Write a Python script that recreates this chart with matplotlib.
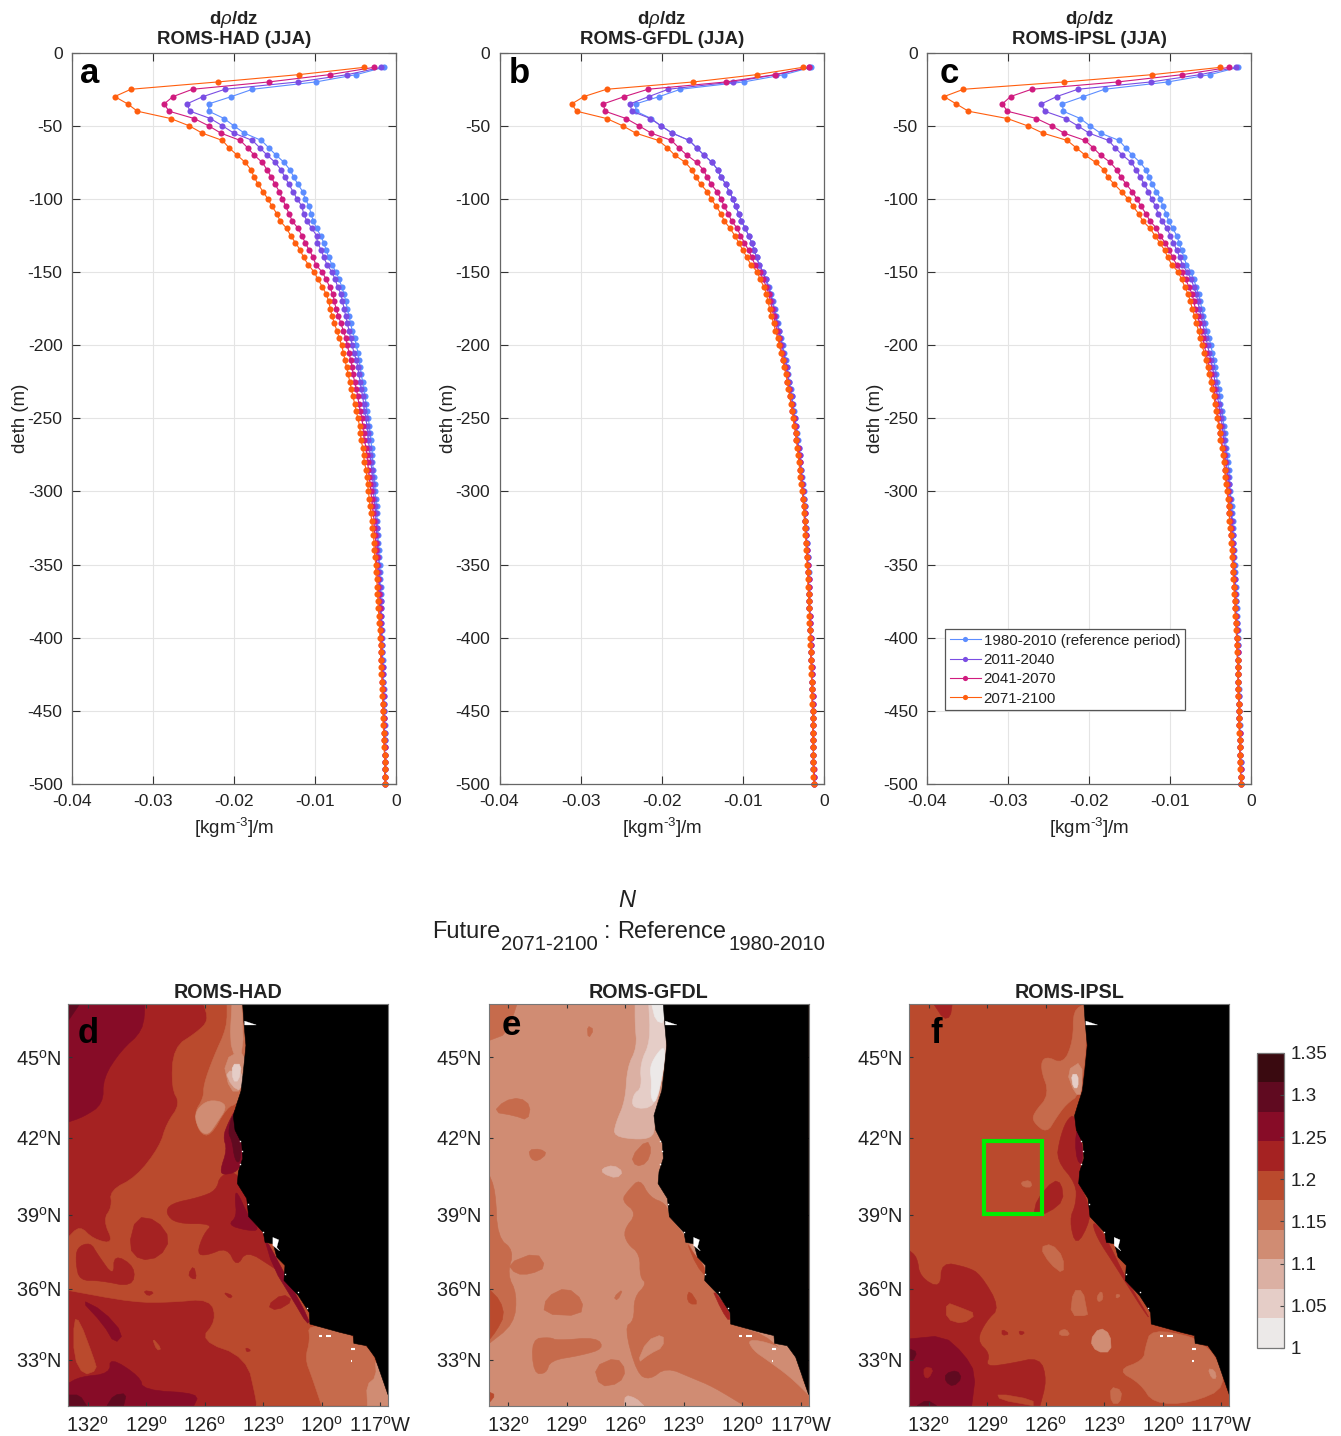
"""Density gradient profiles (a-c) and stratification ratio maps (d-f)."""

import matplotlib

matplotlib.use("Agg")
import matplotlib.pyplot as plt
import numpy as np
from matplotlib.cm import ScalarMappable
from matplotlib.colors import BoundaryNorm, ListedColormap
from matplotlib.patches import Polygon

plt.rcParams["font.family"] = ["Liberation Sans", "DejaVu Sans"]
plt.rcParams["mathtext.fontset"] = "custom"
plt.rcParams["mathtext.rm"] = "Liberation Sans"
plt.rcParams["mathtext.it"] = "Liberation Sans:italic"
plt.rcParams["mathtext.bf"] = "Liberation Sans:bold"
plt.rcParams["axes.unicode_minus"] = False

WIDTH, HEIGHT = 1341, 1436

# depth levels of the profiles, every 5 m
depth_m = np.arange(-10, -505, -5)
periods = ["1980-2010 (reference period)", "2011-2040", "2041-2070", "2071-2100"]
period_colors = ["#5C8DFF", "#7A4DE3", "#D01B7F", "#FF5E0E"]

# -d(rho)/dz in units of 1e-4 kg m-3 per m, ten values per row
had_ref = [15, 49, 99, 177, 203, 231, 231, 212, 200, 187,
           166, 157, 148, 138, 131, 126, 121, 115, 112, 107,
           105, 102, 98, 93, 89, 86, 83, 79, 74, 70,
           67, 64, 62, 60, 58, 56, 54, 51, 49, 47,
           46, 44, 43, 41, 40, 38, 37, 36, 34, 33,
           32, 31, 30, 29, 29, 28, 27, 26, 26, 25,
           24, 24, 23, 23, 22, 22, 21, 21, 20, 20,
           20, 19, 19, 19, 18, 18, 18, 17, 17, 17,
           17, 16, 16, 16, 16, 15, 15, 15, 15, 15,
           14, 14, 14, 14, 14, 13, 13, 13, 13]
had_2011 = [18, 60, 121, 211, 238, 258, 254, 229, 214, 200,
            177, 168, 159, 149, 142, 137, 132, 127, 122, 116,
            114, 110, 104, 98, 97, 92, 89, 85, 79, 75,
            72, 68, 66, 64, 62, 60, 58, 56, 54, 52,
            49, 47, 46, 44, 43, 41, 40, 39, 37, 36,
            35, 34, 33, 32, 31, 30, 29, 28, 28, 27,
            26, 25, 25, 24, 24, 23, 23, 22, 22, 21,
            21, 20, 20, 19, 19, 19, 18, 18, 18, 17,
            17, 17, 16, 16, 16, 16, 15, 15, 15, 15,
            15, 14, 14, 14, 14, 14, 13, 13, 13]
had_2041 = [27, 82, 157, 251, 275, 286, 280, 249, 231, 216,
            192, 183, 175, 165, 159, 154, 149, 144, 140, 136,
            132, 128, 121, 116, 112, 107, 102, 99, 91, 86,
            82, 78, 76, 74, 71, 68, 65, 62, 60, 58,
            56, 54, 53, 51, 49, 47, 46, 44, 42, 41,
            40, 39, 37, 36, 35, 34, 33, 32, 31, 30,
            29, 28, 27, 27, 26, 25, 25, 24, 24, 23,
            22, 22, 21, 21, 20, 20, 20, 19, 19, 18,
            18, 18, 17, 17, 17, 16, 16, 16, 16, 15,
            15, 15, 15, 14, 14, 14, 14, 14, 13]
had_2071 = [39, 120, 220, 327, 347, 331, 319, 278, 255, 239,
            214, 206, 196, 186, 179, 175, 170, 164, 158, 153,
            147, 143, 135, 130, 124, 118, 114, 108, 101, 96,
            91, 86, 83, 81, 79, 76, 73, 70, 67, 65,
            63, 61, 59, 57, 55, 53, 51, 49, 47, 45,
            44, 43, 41, 40, 39, 37, 36, 35, 34, 33,
            32, 31, 30, 29, 28, 27, 27, 26, 25, 25,
            24, 23, 23, 22, 22, 21, 21, 20, 20, 19,
            19, 19, 18, 18, 17, 17, 17, 16, 16, 16,
            16, 15, 15, 15, 14, 14, 14, 14, 13]

gfdl_ref = [16, 49, 99, 177, 203, 232, 232, 213, 201, 187,
            166, 157, 148, 138, 131, 127, 121, 117, 112, 109,
            105, 102, 97, 93, 89, 86, 83, 80, 75, 71,
            68, 65, 63, 61, 59, 57, 55, 53, 51, 49,
            47, 46, 44, 43, 41, 40, 38, 37, 36, 34,
            33, 32, 31, 30, 29, 28, 27, 26, 25, 25,
            24, 23, 23, 22, 22, 21, 21, 20, 20, 19,
            19, 19, 18, 18, 18, 17, 17, 17, 16, 16,
            16, 16, 15, 15, 15, 15, 14, 14, 14, 14,
            14, 14, 13, 13, 13, 13, 13, 12, 12]
gfdl_2011 = [18, 59, 112, 192, 216, 239, 237, 214, 201, 187,
             166, 157, 148, 138, 131, 127, 121, 117, 112, 109,
             105, 102, 97, 93, 89, 86, 83, 80, 75, 72,
             69, 66, 64, 62, 60, 58, 56, 54, 52, 50,
             48, 46, 45, 43, 42, 40, 39, 38, 36, 35,
             34, 33, 31, 30, 29, 28, 28, 27, 26, 25,
             24, 24, 23, 22, 22, 21, 21, 20, 20, 20,
             19, 19, 18, 18, 18, 17, 17, 17, 16, 16,
             16, 16, 15, 15, 15, 15, 14, 14, 14, 14,
             14, 13, 13, 13, 13, 13, 13, 12, 12]
gfdl_2041 = [18, 60, 121, 217, 246, 272, 270, 244, 228, 213,
             188, 179, 169, 157, 149, 144, 139, 132, 127, 123,
             118, 114, 107, 103, 98, 93, 89, 85, 79, 75,
             71, 68, 66, 64, 62, 60, 58, 56, 54, 52,
             50, 48, 46, 45, 43, 42, 40, 39, 37, 36,
             35, 34, 32, 31, 30, 29, 28, 27, 26, 26,
             25, 24, 24, 23, 22, 22, 21, 21, 20, 20,
             19, 19, 19, 18, 18, 17, 17, 17, 16, 16,
             16, 16, 15, 15, 15, 15, 14, 14, 14, 14,
             14, 13, 13, 13, 13, 13, 12, 12, 12]
gfdl_2071 = [26, 83, 161, 268, 296, 311, 305, 268, 248, 232,
             204, 193, 184, 171, 163, 158, 152, 144, 139, 133,
             127, 123, 116, 110, 105, 100, 95, 90, 82, 79,
             74, 71, 69, 67, 65, 62, 60, 57, 55, 53,
             51, 49, 47, 45, 44, 42, 41, 39, 38, 37,
             35, 34, 33, 32, 31, 30, 29, 28, 27, 26,
             25, 25, 24, 23, 23, 22, 22, 21, 21, 20,
             20, 20, 19, 19, 18, 18, 18, 17, 17, 17,
             16, 16, 16, 16, 15, 15, 15, 15, 14, 14,
             14, 14, 14, 13, 13, 13, 13, 13, 12]

ipsl_ref = [16, 51, 103, 181, 207, 233, 232, 211, 199, 186,
            163, 155, 147, 137, 130, 126, 122, 117, 112, 109,
            105, 102, 97, 92, 89, 86, 83, 80, 74, 71,
            68, 65, 63, 61, 59, 57, 55, 52, 50, 48,
            46, 45, 43, 42, 40, 39, 38, 36, 35, 34,
            33, 32, 31, 30, 29, 28, 27, 27, 26, 25,
            24, 24, 23, 23, 22, 22, 21, 21, 20, 20,
            20, 19, 19, 19, 18, 18, 18, 17, 17, 17,
            17, 16, 16, 16, 16, 15, 15, 15, 15, 15,
            14, 14, 14, 14, 14, 13, 13, 13, 13]
ipsl_2011 = [19, 63, 124, 214, 240, 259, 255, 229, 214, 200,
             176, 168, 159, 148, 142, 137, 132, 127, 123, 118,
             115, 110, 104, 100, 96, 92, 88, 85, 79, 74,
             71, 68, 66, 64, 62, 60, 58, 56, 54, 52,
             50, 48, 46, 45, 43, 42, 40, 39, 37, 36,
             35, 34, 33, 32, 31, 30, 29, 28, 27, 26,
             26, 25, 24, 24, 23, 23, 22, 22, 21, 21,
             20, 20, 20, 19, 19, 19, 18, 18, 18, 17,
             17, 17, 16, 16, 16, 16, 15, 15, 15, 15,
             15, 14, 14, 14, 14, 13, 13, 13, 13]
ipsl_2041 = [27, 85, 165, 271, 297, 307, 301, 265, 246, 231,
             205, 195, 186, 174, 166, 161, 154, 147, 141, 136,
             130, 125, 117, 113, 106, 101, 97, 92, 86, 81,
             77, 73, 71, 69, 66, 64, 62, 60, 58, 56,
             54, 52, 50, 48, 46, 45, 43, 42, 41, 39,
             38, 37, 35, 34, 33, 32, 31, 30, 29, 28,
             28, 27, 26, 25, 25, 24, 23, 23, 22, 22,
             21, 21, 20, 20, 20, 19, 19, 18, 18, 18,
             17, 17, 17, 16, 16, 16, 16, 15, 15, 15,
             15, 14, 14, 14, 14, 14, 13, 13, 13]
ipsl_2071 = [38, 122, 231, 355, 379, 364, 349, 301, 276, 257,
             227, 216, 205, 192, 182, 177, 169, 160, 152, 146,
             139, 134, 125, 119, 113, 107, 103, 98, 90, 86,
             82, 78, 75, 73, 70, 68, 65, 63, 61, 58,
             56, 54, 52, 50, 48, 46, 45, 43, 42, 40,
             39, 38, 36, 35, 34, 33, 32, 31, 30, 29,
             28, 27, 27, 26, 25, 25, 24, 24, 23, 22,
             22, 21, 21, 20, 20, 20, 19, 19, 18, 18,
             18, 17, 17, 17, 16, 16, 16, 15, 15, 15,
             15, 15, 14, 14, 14, 14, 14, 13, 13]

profile_titles = ["ROMS-HAD (JJA)", "ROMS-GFDL (JJA)", "ROMS-IPSL (JJA)"]
map_titles = ["ROMS-HAD", "ROMS-GFDL", "ROMS-IPSL"]

# ratio colour classes
ratio_levels = [1.0, 1.035, 1.07, 1.105, 1.14, 1.175, 1.21, 1.245, 1.28, 1.315, 1.35]
ratio_colors = ["#ECE9E8", "#E5CDC7", "#DBB0A3", "#D08C73", "#C66B4C",
                "#BA4A2D", "#A52222", "#870C27", "#600A20", "#3A0A10"]
ratio_ticks = [1, 1.05, 1.1, 1.15, 1.2, 1.25, 1.3, 1.35]
ratio_tick_labels = ["1", "1.05", "1.1", "1.15", "1.2", "1.25", "1.3", "1.35"]

lon_ticks = [132, 129, 126, 123, 120, 117]
lat_ticks = [33, 36, 39, 42, 45]

# land, degrees west and north
land = [(124.05, 46.9), (123.98, 46.2), (123.88, 45.43), (124.01, 44.5), (124.13, 43.77),
        (124.35, 43.28), (124.53, 42.85), (124.44, 42.3), (124.1, 41.8), (124.05, 41.22),
        (124.27, 40.7), (124.32, 40.24), (123.84, 39.65), (123.74, 38.93), (122.99, 38.3),
        (122.9, 37.9), (122.48, 37.84), (122.3, 37.3), (121.88, 36.96), (121.93, 36.34),
        (121.2, 35.72), (120.63, 35.0), (120.6, 34.52), (119.07, 34.17), (118.38, 34.03),
        (118.35, 33.7), (117.7, 33.6), (117.27, 33.11), (116.6, 31.48), (116.6, 46.9)]
columbia_mouth = [(123.95, 46.3), (123.35, 46.16), (123.95, 46.16)]
sf_bay = [(122.5, 38.1), (122.2, 38.0), (122.3, 37.7), (122.15, 37.55), (122.5, 37.77)]
coast_fleck_lon = [124.2, 124.1, 124.2, 123.8, 123.0, 121.9, 121.2, 120.75]
coast_fleck_lat = [41.9, 41.5, 41.0, 39.45, 38.3, 36.6, 35.85, 35.2]
island_dashes = [((120.15, 120.0), (34.03, 34.03)), ((119.8, 119.5), (34.03, 34.03)),
                 ((118.5, 118.3), (33.44, 33.44)), ((118.5, 118.42), (32.95, 32.95))]

# study box on panel f
box_lon = [129.15, 126.2, 126.2, 129.15]
box_lat = [41.9, 41.9, 39.05, 39.05]

# ratio regions, painted in order over the base value of each map
had_base = 1.23
had_regions = [
    (1.26, [(133, 46.9), (129.05, 46.9), (129.15, 45.96), (130.3, 45.24), (131.2, 44.25),
            (131.2, 43.28), (132.2, 42.8), (133, 42.6)]),
    (1.30, [(133, 46.9), (132.4, 46.9), (133, 46.3)]),
    (1.19, [(126.05, 46.9), (125.8, 46.32), (126.4, 45.9), (127.6, 45.36), (127.7, 43.88),
            (127.25, 43.28), (127.95, 42.55), (128.3, 41.68), (129.5, 40.5), (130.85, 39.97),
            (130.75, 39.32), (131.2, 38.8), (130.65, 37.84), (131.7, 38.03), (132.4, 38.58),
            (133, 38.1), (133, 35.93), (129.65, 35.43), (127.75, 35.43), (125.7, 35.58),
            (125.4, 34.66), (126.25, 33.82), (123.85, 33.11), (123.35, 31.25), (123.35, 31.0),
            (116.6, 31.0), (116.6, 46.9)]),
    (1.23, [(132.55, 37.7), (131.85, 37.9), (131.5, 37.43), (130.65, 36.48), (130.65, 37.43),
            (129.55, 36.9), (129.7, 36.07), (131.35, 36.34), (132.4, 36.34), (132.6, 37.03)]),
    (1.23, [(125.2, 40.57), (124.25, 40.76), (123.15, 38.38), (121.8, 36.48), (122.5, 36.89),
            (123.85, 37.57), (124.35, 36.89), (124.85, 37.7), (125.9, 37.36), (126.4, 37.43),
            (126.05, 38.24), (125.55, 38.65), (127.45, 38.65), (128.0, 39.07), (127.75, 39.45),
            (126.25, 39.7), (125.4, 39.97)]),
    (1.23, [(129.5, 38.93), (128.45, 38.8), (127.75, 38.03), (128.3, 37.3), (129.3, 37.16),
            (129.9, 37.7)]),
    (1.23, [(126.85, 36.6), (126.55, 36.96), (126.4, 36.41), (126.65, 36.41)]),
    (1.23, [(129.15, 35.93), (128.55, 35.86), (128.9, 35.68)]),
    (1.23, [(125.05, 35.86), (124.55, 35.72), (124.7, 35.58)]),
    (1.23, [(122.8, 35.29), (122.0, 35.79), (121.45, 35.5), (122.3, 35.08)]),
    (1.23, [(123.9, 33.53), (123.6, 33.4), (123.85, 33.32)]),
    (1.19, [(132.7, 34.73), (132.4, 34.66), (131.7, 33.11), (131.5, 32.55), (132.2, 32.33),
            (132.7, 33.11)]),
    (1.19, [(128.7, 33.96), (128.2, 33.47), (128.45, 33.4)]),
    (1.26, [(132.4, 35.58), (131.2, 35.08), (130.15, 34.1), (130.6, 33.68), (131.2, 34.52)]),
    (1.26, [(130.85, 33.11), (129.3, 32.26), (129.15, 31.68), (126.25, 31.54), (126.55, 31.0),
            (133, 31.0), (133, 31.97), (132.4, 32.26), (130.85, 32.4)]),
    (1.30, [(133, 31.47), (132.4, 31.47), (132.05, 31.0), (133, 31.0)]),
    (1.30, [(130.65, 31.47), (130, 31.54), (130.15, 31.0), (131, 31.0)]),
    (1.26, [(124.55, 42.9), (124.35, 43.16), (124.05, 41.68), (124.05, 41.2), (124.3, 40.7),
            (125.05, 40.57), (125.2, 40.76), (124.85, 41.55), (125.05, 42.06), (124.8, 42.55)]),
    (1.30, [(124.6, 42.85), (124.4, 42.79), (124.1, 41.68), (124.2, 41.03), (124.45, 41.15),
            (124.6, 41.93), (124.8, 42.18)]),
    (1.26, [(124.35, 39.97), (123.75, 38.93), (123.15, 38.38), (123.85, 38.38), (124.8, 38.6),
            (124.35, 38.93), (124.45, 39.7)]),
    (1.26, [(123, 38.24), (121.8, 36.48), (120.6, 34.66), (120.75, 34.52), (121.45, 35.5),
            (122.5, 36.89)]),
    (1.16, [(124.85, 46.9), (124.05, 46.9), (123.88, 45.43), (124.1, 43.76), (124.35, 43.28),
            (124.85, 43.16), (125.7, 42.06), (126.25, 42.18), (126.55, 42.92), (126.05, 43.52),
            (126.05, 44.0), (125.55, 45.0), (124.85, 46.08)]),
    (1.12, [(126.55, 42.92), (125.95, 43.4), (125.2, 43.4), (124.85, 43.16), (125.4, 42.55),
            (125.8, 42.12), (126.25, 42.24)]),
    (1.12, [(124.6, 46.9), (124.1, 46.9), (124.0, 45.24), (124.45, 45.0), (124.7, 45.6)]),
    (1.12, [(125.05, 44.88), (123.9, 45.36), (124.1, 43.76), (124.7, 43.76)]),
    (1.09, [(124.95, 44.5), (124.0, 44.5), (124.13, 43.76), (124.6, 43.94)]),
    (1.05, [(124.6, 44.75), (124.1, 44.75), (124.25, 44.13), (124.55, 44.13)]),
    (1.16, [(120.7, 34.52), (119.05, 34.17), (118.4, 34.03), (118.35, 33.7), (117.7, 33.6),
            (117.3, 33.11), (116.6, 31.47), (116.6, 31.0), (120.0, 31.0), (120.5, 32.26),
            (120.85, 33.04), (120.6, 33.82)]),
    (1.12, [(117.25, 33.1), (116.6, 31.47), (116.6, 31.0), (117.65, 31.0), (117.7, 31.9),
            (117.2, 32.26)]),
]

gfdl_base = 1.12
gfdl_regions = [
    (1.16, [(133, 46.9), (131.55, 46.9), (132.05, 45.85), (133, 45.6)]),
    (1.16, [(127.95, 46.14), (127.6, 46.0), (127.9, 45.66)]),
    (1.16, [(132.75, 42.98), (132.2, 43.4), (131.4, 43.52), (130.85, 43.22), (131.0, 42.67),
            (131.7, 42.85)]),
    (1.16, [(130.95, 41.55), (130.35, 41.58), (130.0, 41.4), (130.5, 41.1), (130.85, 41.2)]),
    (1.16, [(125.7, 41.28), (124.9, 41.93), (124.65, 41.55), (124.9, 41.03), (125.45, 40.9)]),
    (1.16, [(125.25, 40.44), (124.75, 39.7), (123.9, 39.45), (123.75, 38.93), (123.0, 38.24),
            (121.85, 36.48), (120.45, 34.45), (118.45, 33.96), (116.6, 31.83), (116.6, 31.0),
            (119.9, 31.0), (121.5, 31.83), (122.55, 32.2), (123.9, 32.68), (124.75, 32.12),
            (125.4, 32.4), (126.05, 34.38), (125.55, 34.66), (125.55, 35.65), (124.9, 36.2),
            (125.25, 36.48), (125.25, 37.43), (125.9, 37.84), (126.1, 38.38), (125.4, 39.07),
            (126.2, 39.57), (125.85, 39.97)]),
    (1.12, [(119.75, 33.9), (118.4, 33.68), (117.4, 33.11), (116.6, 31.47), (117.55, 32.26),
            (118.7, 32.97), (119.45, 33.4)]),
    (1.12, [(125.4, 32.83), (124.9, 33.82), (124.05, 34.1), (124.05, 33.54), (124.75, 33.25)]),
    (1.09, [(126.05, 31.0), (126.0, 31.47), (125.45, 31.33), (125.05, 31.0)]),
    (1.16, [(133, 40.63), (132.65, 39.97), (132.55, 38.1), (131.7, 37.57), (132.05, 36.6),
            (131.55, 35.79), (131.7, 34.52), (133, 33.68)]),
    (1.19, [(133, 36.0), (132.4, 35.5), (132.2, 34.87), (132.6, 34.24), (133, 33.82)]),
    (1.16, [(132.05, 37.03), (130.55, 37.5), (130.05, 36.89), (130.85, 36.6), (131.6, 36.6)]),
    (1.16, [(130.05, 35.65), (129.0, 36.07), (128.15, 35.5), (128.3, 34.87), (130.2, 34.94)]),
    (1.16, [(126.6, 35.65), (126.1, 36.0), (126.4, 35.5)]),
    (1.19, [(122.85, 35.65), (122.7, 35.93), (122.25, 35.36), (122.7, 35.36)]),
    (1.16, [(130.8, 33.89), (129.85, 33.96), (129.5, 33.82), (127.45, 33.96), (127.1, 33.47),
            (128.3, 33.18), (129.85, 32.97), (130.05, 32.4), (130.7, 32.4)]),
    (1.16, [(127.6, 32.69), (126.45, 33.11), (125.95, 32.55), (126.3, 31.97), (127.3, 31.83)]),
    (1.19, [(133, 31.61), (132.65, 31.47), (133, 31.1)]),
    (1.09, [(125.5, 46.9), (124.05, 46.9), (123.9, 45.43), (124.05, 44.5), (124.45, 43.16),
            (124.5, 42.55), (124.55, 42.06), (125.25, 41.93), (126.6, 42.06), (126.5, 42.55),
            (126.0, 43.4), (125.9, 44.63), (125.4, 45.36), (125.5, 46.2)]),
    (1.05, [(124.8, 46.9), (124.05, 46.9), (123.9, 45.43), (124.05, 44.5), (124.45, 43.16),
            (125.65, 43.1), (125.6, 43.64), (125.15, 43.88), (125.25, 44.75), (124.7, 45.6)]),
    (1.02, [(124.65, 46.9), (124.05, 46.9), (124.0, 46.2), (124.45, 46.32)]),
    (1.02, [(124.75, 44.63), (124.4, 45.12), (123.95, 45.43), (124.05, 44.5), (124.45, 43.28),
            (124.7, 43.52), (124.65, 44.13)]),
    (1.09, [(127.2, 40.83), (126.6, 40.96), (126.1, 40.7), (126.45, 40.44), (127.15, 40.63)]),
    (1.23, [(121.6, 36.07), (120.65, 35.08), (120.65, 34.6), (121.05, 35.08)]),
    (1.19, [(122.85, 37.9), (122.5, 37.43), (122.0, 37.03), (121.85, 36.48), (122.35, 36.96)]),
]

ipsl_base = 1.19
ipsl_regions = [
    (1.23, [(131.75, 46.9), (130.8, 46.9), (130.9, 46.44), (131.25, 46.38)]),
    (1.16, [(124.6, 46.68), (124.0, 46.9), (123.9, 45.43), (124.25, 43.64), (124.95, 43.28),
            (125.45, 42.79), (125.95, 42.18), (126.65, 42.6), (126.65, 42.92), (125.8, 43.64),
            (126.3, 44.63), (126.05, 45.06), (125.1, 44.75), (124.6, 45.6)]),
    (1.12, [(124.95, 44.5), (124.15, 44.87), (124.15, 43.64), (124.5, 43.64)]),
    (1.05, [(124.7, 44.38), (124.35, 44.38), (124.35, 43.88), (124.6, 43.88)]),
    (1.23, [(124.5, 42.92), (124.1, 41.68), (124.15, 40.9), (124.35, 40.37), (123.85, 39.52),
            (123.7, 38.8), (124.45, 37.7), (124.8, 38.8), (124.45, 39.45), (124.45, 40.24),
            (125.45, 41.15), (125.3, 41.93), (124.95, 42.67)]),
    (1.26, [(124.4, 42.37), (124.1, 41.68), (124.15, 40.96), (124.4, 41.15), (124.5, 41.8)]),
    (1.23, [(126.45, 39.65), (125.6, 40.37), (125.2, 40.24), (125.1, 39.57), (125.8, 39.12),
            (126.65, 38.93)]),
    (1.16, [(127.3, 40.3), (126.8, 40.37), (126.7, 40.1), (127.15, 40.1)]),
    (1.23, [(123.65, 38.8), (123, 38.24), (121.85, 36.34), (120.6, 34.66), (121.0, 35.08),
            (122.4, 36.89), (123.4, 38.1)]),
    (1.16, [(126.3, 37.7), (125.7, 37.84), (125.1, 37.3), (125.1, 36.6), (125.8, 37.03)]),
    (1.16, [(124.6, 35.93), (124.1, 35.93), (123.9, 35.08), (123.85, 34.87), (124.75, 34.87)]),
    (1.16, [(123.4, 35.65), (123.15, 35.93), (123.05, 35.58), (123.3, 35.43)]),
    (1.16, [(122.4, 35.79), (122.15, 35.72), (122.4, 35.58)]),
    (1.16, [(125.3, 34.24), (124.95, 34.31), (124.75, 34.03), (125.3, 34.03)]),
    (1.12, [(123.75, 33.82), (123.25, 34.38), (122.7, 34.1), (122.65, 33.33), (123.4, 33.33)]),
    (1.23, [(133, 37.57), (132.6, 37.3), (132.45, 36.48), (131.4, 36.0), (131.35, 37.1),
            (130.05, 36.89), (129.35, 36.6), (128.35, 35.22), (129.05, 34.66), (129.55, 33.82),
            (128.85, 33.25), (129.1, 32.69), (127.85, 32.83), (126.3, 33.11), (125.95, 32.12),
            (126.3, 31.0), (133, 31.0)]),
    (1.19, [(131.1, 35.43), (130.4, 35.22), (129.55, 34.94), (130.25, 34.52), (131.1, 34.73)]),
    (1.23, [(128.25, 34.31), (127.85, 34.1), (128.25, 34.03)]),
    (1.23, [(127.4, 34.24), (127.05, 34.17), (127.3, 34.03)]),
    (1.19, [(128.5, 31.54), (126.65, 31.26), (126.65, 31.0), (128.35, 31.26)]),
    (1.26, [(133, 33.89), (131.25, 34.03), (130.2, 33.25), (129.6, 32.4), (129.8, 31.0), (133, 31.0)]),
    (1.30, [(133, 33.47), (132.6, 33.33), (132.8, 32.97), (133, 32.97)]),
    (1.30, [(131.15, 32.4), (130.55, 32.55), (130.3, 32.19), (130.75, 31.83), (131.15, 32.05)]),
    (1.30, [(132.6, 31.0), (132.1, 31.26), (131.6, 31.0)]),
    (1.23, [(132.25, 32.69), (131.75, 32.62), (132.0, 32.19), (132.25, 32.26)]),
    (1.16, [(120.6, 34.31), (118.35, 33.96), (118.35, 33.7), (117.5, 33.47), (116.65, 31.83),
            (118.6, 31.1), (120.5, 31.1), (121.15, 31.97), (122.35, 32.55), (121.0, 32.97),
            (120.9, 33.54)]),
    (1.16, [(122.7, 31.83), (122.1, 31.68), (122.2, 31.1), (122.65, 31.1)]),
    (1.12, [(117.7, 32.62), (117.35, 32.55), (117.25, 32.19), (117.5, 32.19)]),
]


def px_axes(fig, left, top, right, bottom):
    """Add axes from pixel edges measured from the top left of the figure."""
    return fig.add_axes([left / WIDTH, 1 - bottom / HEIGHT,
                         (right - left) / WIDTH, (bottom - top) / HEIGHT])


def mercator(lat):
    lat = np.radians(np.clip(lat, -85, 85))
    return np.degrees(np.log(np.tan(np.pi / 4 + lat / 2)))


def inverse_mercator(y):
    return np.degrees(2 * np.arctan(np.exp(np.radians(y))) - np.pi / 2)


def on_frame(point):
    return point[0] >= 132.99 or point[0] <= 116.61 or point[1] <= 31.01 or point[1] >= 46.89


def rounded(points):
    """Cut the corners of a region outline, leaving corners on the map frame alone."""
    # small patches get one pass only, two shrink them too much
    passes = 1 if len(points) <= 6 else 2
    for _ in range(passes):
        out = []
        n = len(points)
        for i in range(n):
            p, q = points[i], points[(i + 1) % n]
            if on_frame(p):
                out.append(p)
            else:
                out.append((0.75 * p[0] + 0.25 * q[0], 0.75 * p[1] + 0.25 * q[1]))
            if on_frame(q):
                out.append(q)
            else:
                out.append((0.25 * p[0] + 0.75 * q[0], 0.25 * p[1] + 0.75 * q[1]))
        points = out
    return points


def draw_profile(ax, series, title, letter, letter_x):
    for values, color, label in zip(series, period_colors, periods):
        ax.plot(-1e-4 * np.array(values), depth_m, color=color, lw=0.8, marker="o",
                ms=4.4, mew=0, label=label, clip_on=False)
    ax.set_xlim(-0.04, 0)
    ax.set_ylim(-500, 0)
    ax.set_xticks([-0.04, -0.03, -0.02, -0.01, 0])
    ax.set_xticklabels(["-0.04", "-0.03", "-0.02", "-0.01", "0"])
    ax.set_yticks(np.arange(-500, 1, 50))
    ax.grid(color="#E4E4E4", lw=0.8)
    ax.set_axisbelow(True)
    ax.tick_params(direction="in", length=6, width=0.8, color="#333333", labelsize=12.6,
                   top=True, right=True, labelcolor="#222222")
    ax.tick_params(axis="x", pad=7.3)
    ax.tick_params(axis="y", pad=6.6)
    for spine in ax.spines.values():
        spine.set_color("#666666")
        spine.set_linewidth(0.9)
    ax.set_xlabel("[kgm$^{\u20103}$]/m", fontsize=13.6, color="#222222", labelpad=5)
    ax.set_ylabel("deth (m)", fontsize=13.4, color="#222222", labelpad=-1)
    ax.set_title("d$\\rho$/dz\n" + title, fontsize=13.4, fontweight="bold", pad=6,
                 color="#222222", linespacing=1.13)
    ax.text(letter_x, 0.9586, letter, transform=ax.transAxes, fontsize=25,
            fontweight="bold", color="black")


def draw_map(ax, base, regions, title, letter, letter_x, letter_y, cmap, norm):
    ax.set_yscale("function", functions=(mercator, inverse_mercator))
    ax.set_xlim(133, 116.6)
    ax.set_ylim(31, 46.9)
    ax.set_facecolor(cmap(norm(base)))
    for value, points in regions:
        color = cmap(norm(value))
        ax.add_patch(Polygon(rounded(points), closed=True, fc=color, ec=color, lw=0.4, zorder=1))
    ax.add_patch(Polygon(land, closed=True, fc="black", ec="black", lw=0.4, zorder=2))
    ax.add_patch(Polygon(columbia_mouth, closed=True, fc="white", ec="white", lw=0.2, zorder=3))
    ax.add_patch(Polygon(sf_bay, closed=True, fc="white", ec="white", lw=0.2, zorder=3))
    ax.plot(coast_fleck_lon, coast_fleck_lat, ls="none", marker="s", ms=1, mew=0,
            color="white", zorder=3)
    for dash_lon, dash_lat in island_dashes:
        ax.plot(dash_lon, dash_lat, color="white", lw=1.5, solid_capstyle="butt", zorder=3)
    ax.set_xticks(lon_ticks)
    ax.set_xticklabels([f"{v}$^{{\\mathrm{{o}}}}$" + ("W" if v == 117 else "") for v in lon_ticks])
    ax.set_yticks(lat_ticks)
    ax.set_yticklabels([f"{v}$^{{\\mathrm{{o}}}}$N" for v in lat_ticks])
    ax.minorticks_off()
    ax.tick_params(direction="in", length=3, width=0.8, color="#333333", labelsize=14.4,
                   top=True, right=True, labelcolor="#222222")
    ax.tick_params(axis="x", pad=7)
    ax.tick_params(axis="y", pad=5)
    for spine in ax.spines.values():
        spine.set_color("#777777")
        spine.set_linewidth(0.8)
    ax.set_title(title, fontsize=14.2, fontweight="bold", pad=4, color="#222222")
    ax.text(letter_x, letter_y, letter, transform=ax.transAxes, fontsize=25,
            fontweight="bold", color="black", zorder=5)


fig = plt.figure(figsize=(WIDTH / 100, HEIGHT / 100), dpi=100)

profile_edges = [(71.7, 396), (499.5, 824), (927, 1251.3)]
profile_series = [(had_ref, had_2011, had_2041, had_2071),
                  (gfdl_ref, gfdl_2011, gfdl_2041, gfdl_2071),
                  (ipsl_ref, ipsl_2011, ipsl_2041, ipsl_2071)]
profile_axes = []
for (left, right), series, title, letter, letter_x in zip(
        profile_edges, profile_series, profile_titles, "abc", [0.026, 0.03, 0.04]):
    ax = px_axes(fig, left, 52.7, right, 784)
    draw_profile(ax, series, title, letter, letter_x)
    profile_axes.append(ax)

leg = profile_axes[2].legend(
    loc="lower left", bbox_to_anchor=(0.0555, 0.101), borderaxespad=0, fontsize=10.9,
    fancybox=False, framealpha=1, edgecolor="#555555", handlelength=2.05, handletextpad=0.2,
    labelspacing=0.35, borderpad=0.3, labelcolor="#222222", markerscale=0.85)
leg.get_frame().set_linewidth(0.9)

# centred heading between the two rows
fig.text(627 / WIDTH, 1 - 907 / HEIGHT, "N", fontsize=17, style="italic", ha="center",
         color="#222222")
heading_parts = [(432, 938, "Future", 17), (501, 950, "2071-2100", 14.6), (604, 938, ":", 17),
                 (617, 938, "Reference", 17), (729, 950, "1980-2010", 14.6)]
for x_px, y_px, text, size in heading_parts:
    fig.text(x_px / WIDTH, 1 - y_px / HEIGHT, text, fontsize=size, ha="left", color="#222222")

cmap = ListedColormap(ratio_colors)
norm = BoundaryNorm(ratio_levels, len(ratio_colors))

map_edges = [(68, 388), (488.7, 808.7), (909.3, 1229.3)]
map_regions = [(had_base, had_regions), (gfdl_base, gfdl_regions), (ipsl_base, ipsl_regions)]
letter_spots = [(0.03, 0.904), (0.04, 0.922), (0.067, 0.904)]
map_axes = []
for (left, right), (base, regions), title, letter, (lx, ly) in zip(
        map_edges, map_regions, map_titles, "def", letter_spots):
    ax = px_axes(fig, left, 1004, right, 1405.7)
    draw_map(ax, base, regions, title, letter, lx, ly, cmap, norm)
    map_axes.append(ax)

map_axes[2].add_patch(Polygon(list(zip(box_lon, box_lat)), closed=True, fill=False,
                              ec="#00EE00", lw=3, joinstyle="miter", zorder=4))

cax = px_axes(fig, 1256.7, 1052.7, 1284, 1348)
cb = fig.colorbar(ScalarMappable(norm=norm, cmap=cmap), cax=cax, ticks=ratio_ticks,
                  spacing="proportional")
cb.ax.set_yticklabels(ratio_tick_labels)
cb.ax.minorticks_off()
cb.ax.tick_params(direction="in", length=3, width=0.8, color="#444444", labelsize=13.6,
                  pad=5, labelcolor="#222222")
cb.outline.set_edgecolor("#777777")
cb.outline.set_linewidth(0.9)

fig.savefig("out.png", dpi=100)
